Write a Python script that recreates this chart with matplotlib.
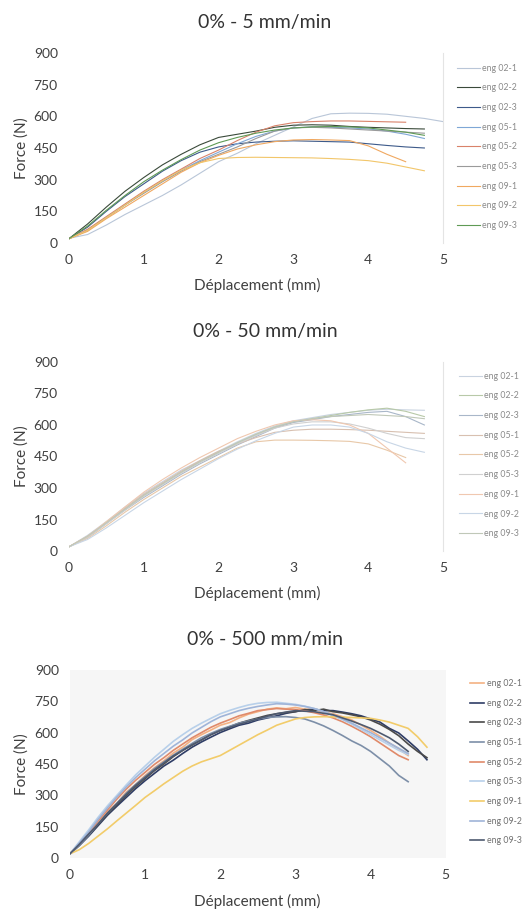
import numpy as np
import matplotlib.pyplot as plt

plt.rcParams['font.family'] = ['Lato', 'DejaVu Sans']

labels = ['eng 02-1', 'eng 02-2', 'eng 02-3', 'eng 05-1', 'eng 05-2',
          'eng 05-3', 'eng 09-1', 'eng 09-2', 'eng 09-3']

# force readings (N), first value at 0 mm displacement
# 5 mm/min, one reading every 0.25 mm
f5 = [
    [22, 40, 85, 135, 180, 225, 275, 330, 385, 425, 470, 510, 550, 590, 612, 615, 614, 610, 600, 590, 575],
    [20, 90, 170, 245, 310, 370, 420, 465, 500, 515, 530, 548, 558, 560, 558, 552, 548, 545, 542, 540],
    [20, 75, 150, 220, 280, 340, 390, 430, 455, 470, 478, 482, 484, 482, 480, 478, 470, 462, 455, 450],
    [20, 60, 120, 180, 240, 295, 345, 390, 430, 470, 505, 530, 545, 550, 548, 545, 540, 530, 515, 495],
    [20, 65, 125, 185, 245, 300, 350, 400, 440, 485, 525, 555, 570, 575, 578, 578, 576, 574, 572],
    [20, 60, 120, 180, 235, 290, 340, 385, 420, 455, 495, 530, 545, 548, 545, 540, 535, 530, 525, 520],
    [20, 55, 115, 170, 225, 280, 335, 380, 415, 445, 465, 480, 488, 490, 488, 485, 460, 420, 385],
    [20, 60, 120, 180, 240, 295, 345, 380, 400, 405, 406, 405, 404, 403, 400, 396, 390, 378, 360, 342],
    [20, 80, 155, 225, 290, 345, 395, 440, 475, 500, 520, 535, 545, 550, 552, 550, 545, 535, 525, 510],
]
# 50 mm/min, one reading every 0.25 mm
f50 = [
    [20, 75, 140, 210, 275, 330, 385, 430, 475, 520, 560, 595, 620, 635, 650, 660, 670, 675, 672, 670],
    [20, 70, 135, 200, 265, 320, 375, 425, 470, 515, 555, 590, 615, 630, 645, 660, 672, 680, 665, 640],
    [20, 65, 130, 195, 255, 310, 365, 415, 460, 505, 545, 585, 612, 625, 640, 650, 660, 665, 640, 600],
    [20, 70, 135, 205, 270, 325, 380, 430, 475, 510, 540, 565, 575, 580, 580, 578, 575, 570, 565, 560],
    [20, 60, 120, 185, 245, 300, 355, 400, 445, 490, 520, 528, 528, 527, 525, 522, 510, 480, 445],
    [20, 65, 130, 195, 260, 315, 370, 420, 465, 510, 550, 585, 605, 615, 615, 605, 585, 560, 540, 535],
    [20, 70, 140, 210, 280, 340, 395, 445, 490, 535, 570, 600, 620, 625, 620, 600, 560, 490, 420],
    [20, 55, 110, 170, 230, 285, 340, 390, 440, 485, 525, 560, 590, 600, 600, 590, 560, 520, 490, 470],
    [20, 70, 135, 200, 265, 320, 375, 425, 470, 515, 555, 590, 615, 630, 640, 645, 650, 645, 640, 630],
]
# 500 mm/min, one reading every 0.125 mm
f500 = [
    [20, 68, 115, 168, 220, 262, 315, 352, 395, 432, 465, 502, 530, 566, 590, 612, 635, 648, 670, 688,
     700, 712, 718, 714, 720, 712, 710, 698, 690, 676, 660, 636, 610, 582, 550, 522, 490],
    [20, 60, 105, 155, 205, 248, 290, 332, 370, 405, 440, 468, 500, 530, 555, 578, 600, 618, 635, 645,
     660, 670, 680, 692, 700, 708, 712, 705, 705, 698, 690, 680, 665, 650, 620, 598, 560, 520, 470],
    [20, 62, 110, 160, 210, 255, 300, 342, 380, 418, 450, 485, 515, 540, 565, 590, 610, 628, 645, 658,
     670, 682, 690, 696, 700, 710, 705, 712, 700, 694, 685, 675, 660, 640, 615, 585, 545, 510, 480],
    [20, 62, 110, 165, 215, 262, 310, 352, 390, 428, 460, 492, 520, 548, 575, 596, 615, 630, 645, 655,
     665, 672, 675, 676, 672, 665, 650, 632, 610, 586, 560, 538, 510, 475, 440, 395, 365],
    [20, 70, 120, 178, 230, 282, 330, 372, 410, 448, 480, 515, 545, 575, 600, 625, 645, 662, 680, 692,
     705, 710, 715, 712, 710, 704, 695, 684, 670, 652, 630, 606, 580, 550, 520, 490, 470],
    [20, 78, 135, 195, 250, 300, 350, 398, 440, 482, 520, 558, 590, 620, 645, 668, 690, 706, 720, 732,
     740, 744, 745, 740, 735, 726, 715, 700, 680, 662, 640, 615, 590, 565, 540, 515, 495],
    [20, 40, 70, 105, 140, 178, 215, 252, 290, 322, 355, 385, 415, 440, 460, 475, 490, 515, 540, 565,
     590, 612, 635, 650, 665, 672, 675, 676, 675, 674, 672, 670, 668, 660, 650, 635, 620, 580, 530],
    [20, 72, 125, 185, 240, 292, 340, 385, 425, 465, 500, 535, 565, 598, 625, 652, 675, 690, 705, 716,
     725, 732, 738, 736, 732, 725, 715, 700, 685, 665, 645, 622, 600, 575, 550, 525, 500],
    [20, 66, 115, 162, 215, 260, 305, 348, 385, 422, 455, 488, 515, 542, 565, 590, 610, 625, 640, 652,
     665, 678, 690, 698, 705, 702, 700, 692, 685, 670, 655, 638, 620, 598, 575, 545, 510],
]
steps = [0.25, 0.25, 0.125]

col5 = ['#b9c6d8', '#3a4a3a', '#3d5a8a', '#7fa7d6', '#d9826a', '#9a9a9a', '#f0a860', '#f2c66a', '#5f9a55']
col50 = ['#c9d3e0', '#b8c9a8', '#a9b7c9', '#d8c0b0', '#e8c8a8', '#d0d0d0', '#f0c8b0', '#c8d6e6', '#c0c8b8']
col500 = ['#f4b183', '#2f3d66', '#4a4a4a', '#7d8fa8', '#e08a6a', '#b8d0ea', '#f2cc6a', '#9fb4d8', '#4e5a70']
leg_text = ['#8a8a8a', '#8a8a8a', '#707070']

panels = [
    ('0% - 5 mm/min', f5, col5, [0.130, 0.7327, 0.706, 0.209], 0.9747, 0.6865, [0.862, 0.930]),
    ('0% - 50 mm/min', f50, col50, [0.130, 0.3938, 0.706, 0.208], 0.6348, 0.3476, [0.866, 0.591]),
    ('0% - 500 mm/min', f500, col500, [0.132, 0.0561, 0.709, 0.207], 0.296, 0.0088, [0.886, 0.253]),
]

fig = plt.figure(figsize=(5.3, 9.09), dpi=100)
for i, (title, data, cols, rect, ty, xy, lpos) in enumerate(panels):
    ax = fig.add_axes(rect)
    for vals, c, lab in zip(data, cols, labels):
        x = np.arange(len(vals)) * steps[i]
        lw = 1.2 if i == 2 else 0.8
        ax.plot(x, vals, color=c, lw=lw, label=lab)
    ax.set_xlim(0, 5)
    ax.set_ylim(0, 900)
    ax.set_xticks(range(6))
    ax.set_yticks(range(0, 901, 150))
    ax.tick_params(length=0, labelsize=10, labelcolor='#404040', pad=8)
    for s in ['top', 'left', 'bottom']:
        ax.spines[s].set_visible(False)
    if i == 2:
        ax.spines['right'].set_visible(False)
        ax.set_facecolor('#f6f6f6')
    else:
        ax.spines['right'].set_color('#e4e4e4')
        ax.spines['right'].set_linewidth(0.8)
    fig.text(0.5, ty, title, ha='center', va='center', fontsize=14, color='#333333')
    fig.text(0.485, xy, 'Déplacement (mm)', ha='center', va='center', fontsize=11, color='#404040')
    fig.text(0.040, rect[1] + rect[3] / 2, 'Force (N)', ha='center', va='center',
             rotation=90, fontsize=11, color='#404040')
    hl = 1.7 if i == 2 else 2.6
    leg = fig.legend(*ax.get_legend_handles_labels(), loc='upper left', bbox_to_anchor=lpos,
                     frameon=False, fontsize=6.3, handlelength=hl, handletextpad=0.25,
                     labelspacing=1.22, borderpad=0, borderaxespad=0)
    for t in leg.get_texts():
        t.set_color(leg_text[i])

fig.savefig('out.png', dpi=100)
